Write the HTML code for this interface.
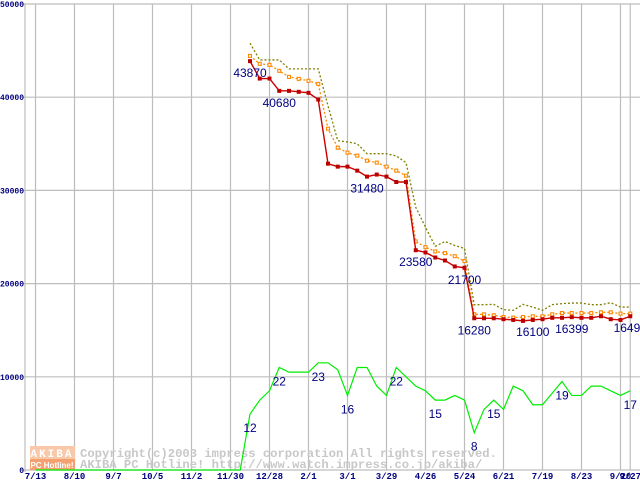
<!DOCTYPE html>
<html><head><meta charset="utf-8"><style>
html,body{margin:0;padding:0;background:#fff;width:640px;height:480px;overflow:hidden}
svg{display:block;font-family:"Liberation Sans",sans-serif}
</style></head><body>
<svg id="chart" width="640" height="480" viewBox="0 0 640 480"></svg>
<script>
const xLabels=["7/13","8/10","9/7","10/5","11/2","11/30","12/28","2/1","3/1","3/29","4/26","5/24","6/21","7/19","8/23","9/20","9/27"];
const xLabelIdx=[0,4,8,12,16,20,24,28,32,36,40,44,48,52,56,60,61];
const yTicks=[0,10000,20000,30000,40000,50000];
const N=62;
const minPrice=[null,null,null,null,null,null,null,null,null,null,null,null,null,null,null,null,null,null,null,null,null,null,
43870,42000,42000,40680,40680,40580,40470,39750,32870,32550,32550,32120,31480,31700,31480,30900,30900,
23580,23340,22800,22480,21840,21700,16280,16280,16280,16180,16100,16000,16100,16180,16330,16330,16399,16330,16330,16499,16180,16100,16499];
const avgPrice=[null,null,null,null,null,null,null,null,null,null,null,null,null,null,null,null,null,null,null,null,null,null,
44430,43580,43470,42830,42180,41970,41760,41430,36620,34580,34050,33730,33190,32980,32550,32120,31580,
24520,23910,23450,23270,22940,22410,16700,16700,16600,16410,16350,16410,16490,16490,16700,16840,16840,16840,16840,16920,16920,16780,16780];
const maxPrice=[null,null,null,null,null,null,null,null,null,null,null,null,null,null,null,null,null,null,null,null,null,null,
45790,44000,44000,44000,43040,43040,43040,43040,39080,35330,35200,35000,33940,33940,33940,33700,32980,
28190,26050,24000,24520,24090,23770,17740,17740,17770,17200,17130,17770,17480,17130,17740,17850,17910,17910,17740,17740,17950,17480,17480];
const shopCount=[0,0,0,0,0,0,0,0,0,0,0,0,0,0,0,0,0,0,0,0,0,0,
12,15,17,22,21,21,21,23,23,21.5,16,22,22,18,16,22,20,18,17,15,15,16,15,8,13,15,13,18,17,14,14,16.5,19,16,16,18,18,17,16,17];
const priceLabels=[[22,"43870"],[25,"40680"],[34,"31480"],[39,"23580"],[44,"21700"],[45,"16280"],[51,"16100"],[55,"16399"],[61,"16499"]];
const countLabels=[[22,"12"],[25,"22"],[29,"23"],[32,"16"],[37,"22"],[41,"15"],[45,"8"],[47,"15"],[54,"19"],[61,"17"]];

const svg=document.getElementById('chart');
const NS="http://www.w3.org/2000/svg";
function xs(i){return 35.5+9.75*i;}
function ys(v){return 470-v*0.00932;}
function mk(tag,attrs,parent){const e=document.createElementNS(NS,tag);for(const k in attrs)e.setAttribute(k,attrs[k]);(parent||svg).appendChild(e);return e;}

yTicks.forEach(v=>{
  const l=mk('line',{x1:22,x2:640,y1:ys(v),y2:ys(v),stroke:'#bdbdbd','stroke-width':1.2});
  
  
  const t=mk('text',{x:24,y:ys(v)+3,'text-anchor':'end','font-size':8,'font-weight':'bold',fill:'#000080','font-family':'Liberation Mono, monospace'});
  t.textContent=String(v);
  
  
});
xLabelIdx.forEach((idx,k)=>{
  const l=mk('line',{x1:xs(idx),x2:xs(idx),y1:4,y2:470,stroke:'#bdbdbd','stroke-width':1.2});
  
  
  const t=mk('text',{x:xs(idx),y:479,'text-anchor':'middle','font-size':9,'font-weight':'bold',fill:'#000080','font-family':'Liberation Mono, monospace'});
  t.textContent=xLabels[k];
  
  
});
const ax=mk('line',{x1:25,x2:25,y1:4,y2:472,stroke:'#bdbdbd','stroke-width':1.2});



const wm=mk('g',{});


mk('rect',{x:30,y:446,width:45,height:13,fill:'#f8c8a8'},wm);
mk('rect',{x:30,y:459,width:45,height:11,fill:'#f4a070'},wm);
let t=mk('text',{x:52,y:457,'text-anchor':'middle','font-size':11,'font-weight':'bold',fill:'#fff','font-family':'Liberation Mono, monospace','letter-spacing':2},wm);t.textContent='AKIBA';
t=mk('text',{x:52,y:468,'text-anchor':'middle','font-size':8,'font-weight':'bold',fill:'#fff'},wm);t.textContent='PC Hotline!';
t=mk('text',{x:80,y:457,'font-size':12.2,'font-weight':'bold',fill:'#c8c8c8','font-family':'Liberation Mono, monospace'},wm);t.textContent='Copyright(c)2003 impress corporation All rights reserved.';
t=mk('text',{x:80,y:468,'font-size':12.2,'font-weight':'bold',fill:'#c8c8c8','font-family':'Liberation Mono, monospace'},wm);t.textContent='AKIBA PC Hotline!  http://www.watch.impress.co.jp/akiba/';

function path(arr){let d='';let pen=false;arr.forEach((v,i)=>{if(v==null){pen=false;return;}d+=(pen?'L':'M')+xs(i)+' '+ys(v)+' ';pen=true;});return d;}

const cl=mk('path',{d:path(shopCount.map(c=>c*500)),fill:'none',stroke:'#00ee00','stroke-width':1.2});



const ml=mk('path',{d:path(maxPrice),fill:'none',stroke:'#808000','stroke-width':1.3,'stroke-dasharray':'2 2'});


const al=mk('path',{d:path(avgPrice),fill:'none',stroke:'#ff8800','stroke-width':1.3,'stroke-dasharray':'2 2'});


avgPrice.forEach((v,i)=>{if(v==null)return;
  const r=mk('rect',{x:xs(i)-1.5,y:ys(v)-1.5,width:3,height:3,fill:'#fff',stroke:'#ff8800','stroke-width':1.1});
  
  
});
const rl=mk('path',{d:path(minPrice),fill:'none',stroke:'#cc0000','stroke-width':1.4});


minPrice.forEach((v,i)=>{if(v==null)return;
  const r=mk('rect',{x:xs(i)-2,y:ys(v)-2,width:4,height:4,fill:'#bb0000'});
  
  
});

priceLabels.forEach(([i,s])=>{
  const tx=mk('text',{x:xs(i),y:ys(minPrice[i])+16,'text-anchor':'middle','font-size':12,fill:'#000080'});
  tx.textContent=s;
  
  
});
countLabels.forEach(([i,s])=>{
  const tx=mk('text',{x:xs(i),y:ys(shopCount[i]*500)+18,'text-anchor':'middle','font-size':12,fill:'#000080'});
  tx.textContent=s;
  
  
});
</script>
</body></html>
